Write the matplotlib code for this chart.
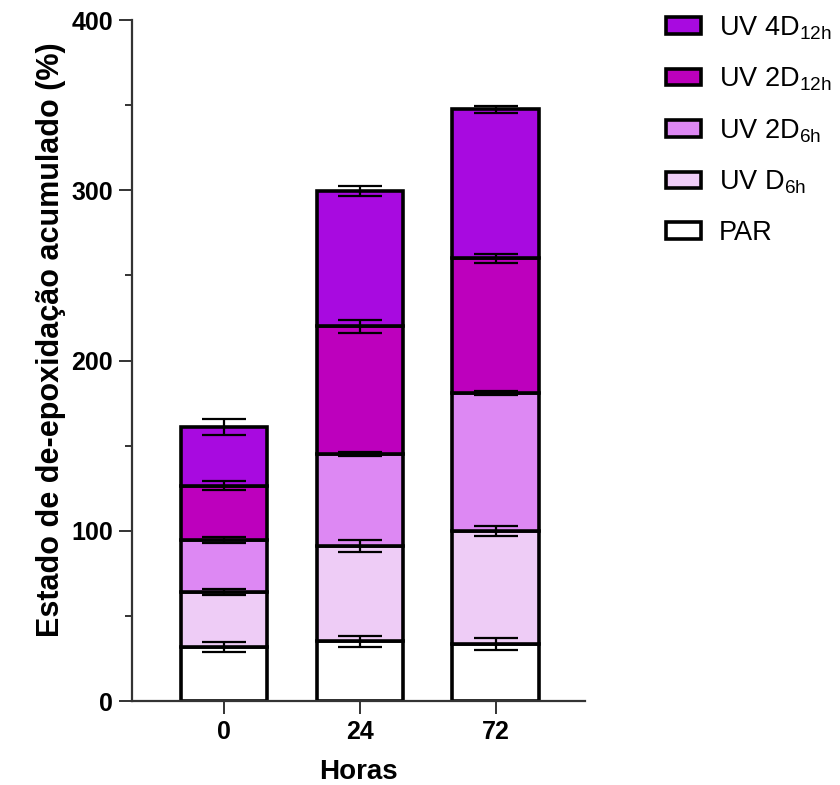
import numpy as np
import matplotlib
matplotlib.use("Agg")
import matplotlib.pyplot as plt
from matplotlib.ticker import MultipleLocator
from matplotlib.patches import Patch

plt.rcParams['font.family'] = ['Liberation Sans', 'DejaVu Sans']
plt.rcParams['mathtext.fontset'] = 'custom'
plt.rcParams['mathtext.rm'] = 'Liberation Sans'
plt.rcParams['mathtext.default'] = 'regular'

hours = ['0', '24', '72']
series = ['PAR', 'UV D$_{6h}$', 'UV 2D$_{6h}$', 'UV 2D$_{12h}$', 'UV 4D$_{12h}$']
colors = ['#FFFFFF', '#EECCF6', '#DD88F3', '#BD00BD', '#A80AE0']

# contribution of each treatment (stacked), one row per series
par = [31.5, 35.0, 33.5]
uv_d6 = [32.5, 56.0, 66.5]
uv_2d6 = [30.6, 54.0, 81.0]
uv_2d12 = [31.9, 75.0, 79.0]
uv_4d12 = [34.5, 79.5, 87.5]
# SD of the accumulated value at the top of each segment
sd_par = [3.0, 3.0, 3.5]
sd_d6 = [1.5, 3.4, 3.0]
sd_2d6 = [1.5, 1.2, 1.0]
sd_2d12 = [2.5, 3.8, 2.5]
sd_4d12 = [4.5, 3.0, 2.0]

values = np.array([par, uv_d6, uv_2d6, uv_2d12, uv_4d12])
errors = np.array([sd_par, sd_d6, sd_2d6, sd_2d12, sd_4d12])

fig = plt.figure(figsize=(8.4, 7.85), dpi=100)
ax = fig.add_axes([0.157, 0.107, 0.539, 0.8675])

x = np.arange(len(hours))
bottom = np.zeros(len(hours))
for vals, errs, col in zip(values, errors, colors):
    ax.bar(x, vals, 0.637, bottom=bottom, color=col, edgecolor='black',
           linewidth=2.6, zorder=2)
    top = bottom + vals
    ax.errorbar(x, top, yerr=errs, fmt='none', ecolor='black',
                elinewidth=1.6, capsize=16, capthick=1.6, zorder=3)
    bottom = top

ax.set_xlim(-0.678, 2.656)
ax.set_ylim(0, 400)
ax.set_xticks(x)
ax.set_xticklabels(hours, fontsize=18, fontweight='bold')
ax.yaxis.set_major_locator(MultipleLocator(100))
ax.yaxis.set_minor_locator(MultipleLocator(50))
for lab in ax.get_yticklabels():
    lab.set_fontsize(18)
    lab.set_fontweight('bold')
ax.tick_params(axis='both', which='major', length=9.5, width=1.4, color='#333333', pad=4)
ax.tick_params(axis='y', which='minor', length=5, width=1.4, color='#333333')
ax.spines['top'].set_visible(False)
ax.spines['right'].set_visible(False)
for s in ('left', 'bottom'):
    ax.spines[s].set_linewidth(1.6)
    ax.spines[s].set_color('#333333')

ax.set_xlabel('Horas', fontsize=20, fontweight='bold', labelpad=11)
ax.set_ylabel('Estado de de-epoxidação acumulado (%)', fontsize=22,
              fontweight='bold')
ax.yaxis.set_label_coords(-0.145, 0.53)

handles = [Patch(facecolor=c, edgecolor='black', linewidth=2.6) for c in colors]
leg = fig.legend(handles[::-1], series[::-1], loc='upper left',
                 bbox_to_anchor=(0.764, 1.013), frameon=False, fontsize=19.5,
                 handlelength=1.3, handleheight=0.56, handletextpad=0.66,
                 labelspacing=0.885)

fig.savefig('out.png', dpi=100)
